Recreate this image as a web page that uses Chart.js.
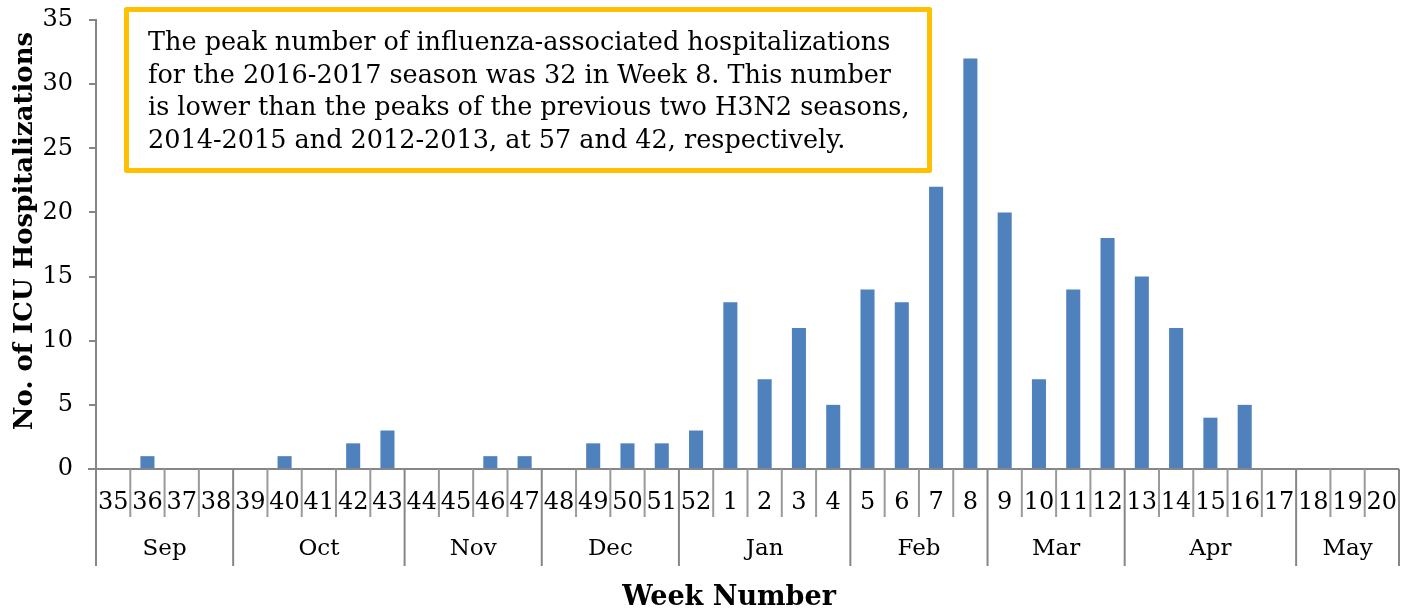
<!DOCTYPE html>
<html>
<head>
<meta charset="utf-8">
<script src="https://cdn.jsdelivr.net/npm/chart.js@4/dist/chart.umd.min.js"></script>
<style>
  html, body { margin: 0; padding: 0; background: #fff; }
  #wrap { width: 1412px; height: 610px; }
</style>
</head>
<body>
<div id="wrap"><canvas id="barChart"></canvas></div>
<script>
// weeks of the 2016-2017 season
const weeks = ["35","36","37","38","39","40","41","42","43","44","45","46","47","48","49","50","51","52",
  "1","2","3","4","5","6","7","8","9","10","11","12","13","14","15","16","17","18","19","20"];
const icuCounts = [0,1,0,0,0,1,0,2,3,0,0,1,1,0,2,2,2,3,
  13,7,11,5,14,13,22,32,20,7,14,18,15,11,4,5,0,0,0,0];
const months = ["Sep","Oct","Nov","Dec","Jan","Feb","Mar","Apr","May"];
const weeksPerMonth = [4,5,4,4,5,4,4,5,3];
const yTicks = [0,5,10,15,20,25,30,35];
const noteLines = [
  "The peak number of influenza-associated hospitalizations",
  "for the 2016-2017 season was 32 in Week 8. This number",
  "is lower than the peaks of the previous two H3N2 seasons,",
  "2014-2015 and 2012-2013, at 57 and 42, respectively."
];

const FONT = "'DejaVu Serif', Georgia, serif";
const AXIS_GRAY = "#868686";

// draws grouped week/month axis, titles and the note box
const extrasPlugin = {
  id: "extras",
  afterDraw(chart) {
    const ctx = chart.ctx;
    const x = chart.scales.x;
    const area = chart.chartArea;
    const step = x.getPixelForTick(1) - x.getPixelForTick(0);
    const base = area.bottom;

    ctx.save();
    // x axis line
    ctx.strokeStyle = AXIS_GRAY;
    ctx.lineWidth = 2;
    ctx.beginPath();
    ctx.moveTo(area.left - 8, base);
    ctx.lineTo(area.right, base);
    ctx.stroke();

    // month boundaries (index where each month starts)
    const monthStarts = [];
    let acc = 0;
    weeksPerMonth.forEach((n) => { monthStarts.push(acc); acc += n; });
    monthStarts.push(acc);

    // dividers between weeks
    for (let i = 0; i <= weeks.length; i++) {
      const px = x.getPixelForTick(Math.min(i, weeks.length - 1)) + (i === weeks.length ? step / 2 : -step / 2);
      const isMonth = monthStarts.includes(i);
      ctx.strokeStyle = isMonth ? AXIS_GRAY : "#9a9a9a";
      ctx.lineWidth = 2;
      ctx.beginPath();
      ctx.moveTo(px, base);
      ctx.lineTo(px, isMonth ? base + 97 : base + 48);
      ctx.stroke();
    }

    // week labels
    ctx.fillStyle = "#000";
    ctx.font = "24px " + FONT;
    ctx.textAlign = "center";
    ctx.textBaseline = "middle";
    weeks.forEach((w, i) => {
      ctx.fillText(w, x.getPixelForTick(i), base + 34);
    });

    // month labels
    ctx.font = "23px " + FONT;
    months.forEach((m, k) => {
      const a = x.getPixelForTick(monthStarts[k]) - step / 2;
      const b = x.getPixelForTick(monthStarts[k + 1] - 1) + step / 2;
      ctx.fillText(m, (a + b) / 2, base + 80);
    });

    // axis titles
    ctx.font = "bold 27px " + FONT;
    ctx.fillText("Week Number", 729, 598);
    ctx.save();
    ctx.translate(25, 231);
    ctx.rotate(-Math.PI / 2);
    ctx.font = "bold 26px " + FONT;
    ctx.fillText("No. of ICU Hospitalizations", 0, 0);
    ctx.restore();

    // annotation box
    ctx.fillStyle = "#fff";
    ctx.strokeStyle = "#FFC000";
    ctx.lineWidth = 5;
    ctx.lineJoin = "round";
    ctx.beginPath();
    ctx.rect(126.5, 9.5, 803, 161);
    ctx.fill();
    ctx.stroke();
    ctx.fillStyle = "#000";
    ctx.font = "25.5px " + FONT;
    ctx.textAlign = "left";
    ctx.textBaseline = "alphabetic";
    noteLines.forEach((line, i) => {
      ctx.fillText(line, 148, 50 + i * 32.7);
    });
    ctx.restore();
  }
};

new Chart(document.getElementById("barChart").getContext("2d"), {
  type: "bar",
  data: {
    labels: weeks,
    datasets: [
      {
        label: "ICU hospitalizations",
        data: icuCounts,
        backgroundColor: "#4F81BD",
        barPercentage: 0.41,
        categoryPercentage: 1,
      },
    ],
  },
  options: {
    responsive: true,
    maintainAspectRatio: false,
    animation: false,
    layout: { padding: { top: 20, right: 13, left: 0, bottom: 0 } },
    plugins: {
      legend: { display: false },
      tooltip: { enabled: false },
    },
    scales: {
      x: {
        grid: { display: false, drawTicks: false },
        border: { display: false },
        ticks: { display: false },
        afterFit(scale) { scale.height = 141; },
      },
      y: {
        min: 0,
        max: 35,
        afterBuildTicks(scale) { scale.ticks = yTicks.map((v) => ({ value: v })); },
        afterFit(scale) {
          scale.width = 96;
          scale.paddingTop = 0;
          scale.paddingBottom = 0;
        },
        grid: { drawOnChartArea: false, drawTicks: true, tickLength: 7, color: AXIS_GRAY, lineWidth: 2 },
        border: { color: AXIS_GRAY, width: 2 },
        ticks: {
          padding: 16,
          color: "#000",
          font: { family: FONT, size: 24 },
        },
      },
    },
  },
  plugins: [extrasPlugin],
});
</script>
</body>
</html>
